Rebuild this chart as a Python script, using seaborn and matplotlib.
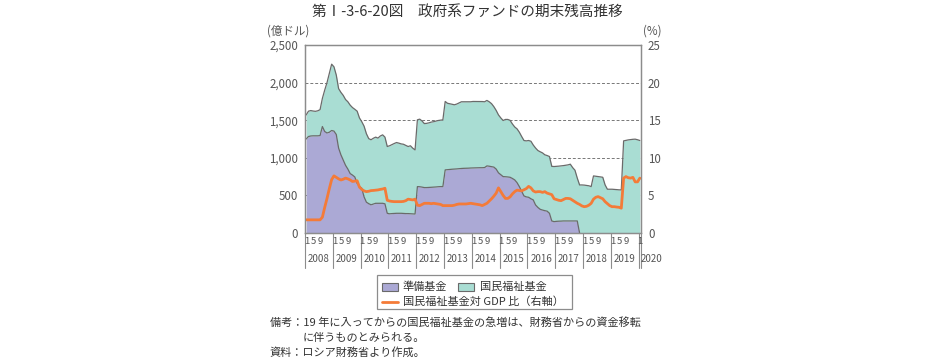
import numpy as np
import pandas as pd
import matplotlib
matplotlib.use("Agg")
import matplotlib.pyplot as plt
from matplotlib.patches import Rectangle
from matplotlib.lines import Line2D
import seaborn as sns

# ---------------- data (monthly, Jan 2008 - Jan 2020) ----------------
years = ["2008", "2009", "2010", "2011", "2012", "2013", "2014",
         "2015", "2016", "2017", "2018", "2019", "2020"]
month_labels = ["1", "5", "9"]

# 準備基金 (億ドル)
reserve_fund = [
    1250, 1283, 1290, 1292, 1292, 1292, 1295, 1416, 1350, 1330, 1340, 1363,   # 2008
    1355, 1310, 1130, 1040, 970, 900, 850, 790, 770, 745, 660, 620,           # 2009
    595, 480, 410, 390, 375, 385, 395, 395, 395, 395, 388, 262,               # 2010
    255, 258, 260, 262, 262, 262, 260, 258, 258, 256, 254, 252,               # 2011
    617, 615, 610, 604, 604, 606, 608, 610, 612, 615, 617, 617,               # 2012
    839, 842, 845, 848, 850, 852, 855, 858, 860, 861, 862, 864,               # 2013
    865, 866, 867, 868, 868, 870, 892, 888, 882, 876, 850, 800,               # 2014
    775, 750, 748, 745, 741, 725, 706, 670, 617, 555, 493, 480,               # 2015
    475, 455, 440, 373, 340, 315, 305, 297, 290, 262, 160, 151,               # 2016
    155, 157, 158, 160, 160, 160, 160, 160, 160, 160, 0, 0,                   # 2017
    0, 0, 0, 0, 0, 0, 0, 0, 0, 0, 0, 0,                                       # 2018
    0, 0, 0, 0, 0, 0, 0, 0, 0, 0, 0, 0,                                       # 2019
    0,                                                                         # 2020
]

# 国民福祉基金 (億ドル)
nwf_fund = [
    320, 337, 338, 330, 326, 333, 345, 374, 550, 670, 780, 882,               # 2008
    855, 790, 790, 830, 860, 875, 895, 910, 898, 900, 960, 910,               # 2009
    885, 940, 910, 865, 865, 875, 880, 867, 895, 910, 887, 888,               # 2010
    905, 917, 930, 941, 933, 923, 920, 907, 892, 904, 874, 853,               # 2011
    888, 899, 880, 851, 854, 859, 867, 870, 876, 881, 883, 888,               # 2012
    910, 883, 873, 864, 855, 863, 875, 887, 885, 884, 883, 881,               # 2013
    884, 883, 882, 881, 880, 875, 871, 857, 838, 804, 780, 770,               # 2014
    755, 746, 762, 765, 757, 725, 704, 715, 723, 728, 737, 745,               # 2015
    755, 765, 730, 757, 757, 765, 760, 743, 740, 755, 726, 733,               # 2016
    731, 732, 734, 736, 741, 746, 755, 710, 675, 570, 639, 639,               # 2017
    637, 633, 628, 617, 759, 755, 750, 746, 741, 640, 582, 582,               # 2018
    582, 580, 577, 574, 573, 1225, 1232, 1238, 1242, 1246, 1248, 1240,        # 2019
    1230,                                                                      # 2020
]

# 国民福祉基金対 GDP 比 (%)
nwf_gdp_ratio = [
    1.75, 1.75, 1.75, 1.75, 1.75, 1.75, 1.75, 2.1, 3.4, 4.6, 5.9, 7.1,        # 2008
    7.6, 7.4, 7.2, 7.05, 7.15, 7.3, 7.2, 7.05, 6.85, 6.9, 6.95, 6.1,          # 2009
    5.8, 5.6, 5.5, 5.55, 5.64, 5.66, 5.7, 5.73, 5.8, 5.85, 5.95, 4.35,        # 2010
    4.25, 4.2, 4.17, 4.17, 4.17, 4.17, 4.2, 4.3, 4.5, 4.45, 4.4, 4.5,         # 2011
    3.7, 3.64, 3.8, 3.95, 3.95, 3.95, 3.9, 3.95, 3.9, 3.86, 3.8, 3.64,        # 2012
    3.64, 3.64, 3.64, 3.64, 3.7, 3.8, 3.86, 3.86, 3.86, 3.86, 3.9, 3.95,      # 2013
    3.9, 3.85, 3.8, 3.75, 3.64, 3.8, 3.95, 4.25, 4.55, 4.9, 5.3, 6.0,         # 2014
    5.5, 5.0, 4.6, 4.6, 4.8, 5.2, 5.5, 5.7, 5.65, 5.6, 5.75, 5.9,             # 2015
    6.2, 6.0, 5.6, 5.45, 5.5, 5.5, 5.4, 5.5, 5.3, 5.2, 5.1, 4.55,             # 2016
    4.45, 4.35, 4.3, 4.45, 4.6, 4.6, 4.55, 4.35, 4.15, 3.95, 3.8, 3.6,        # 2017
    3.5, 3.55, 3.7, 3.95, 4.5, 4.75, 4.84, 4.7, 4.55, 4.17, 3.9, 3.64,        # 2018
    3.5, 3.5, 3.45, 3.42, 3.3, 7.3, 7.5, 7.35, 7.3, 7.4, 6.8, 6.8,            # 2019
    7.3,                                                                       # 2020
]

# ---------------- style ----------------
sns.set_theme(style="white")
plt.rcParams['font.family'] = ['Noto Sans CJK JP', 'DejaVu Sans']

PURPLE = "#ABA9D5"
TEAL = "#A9DDD3"
ORANGE = "#F47B38"
EDGE = "#6A6A6A"
SPINE = "#8C8C8C"
TXT = "#333333"
TICK = "#555555"

W, H = 928, 360
fig = plt.figure(figsize=(W / 100, H / 100), dpi=100)
fig.patch.set_facecolor("white")

def fx(px):
    return px / W

def fy(py):
    return 1 - py / H

L, R, T, B = 305, 641, 45, 233
ax = fig.add_axes([fx(L), fy(B), fx(R - L), (B - T) / H])

df = pd.DataFrame({
    "m": np.arange(len(reserve_fund)),
    "reserve": reserve_fund,
    "nwf": nwf_fund,
    "ratio": nwf_gdp_ratio,
})

# gridlines
for v in [500, 1000, 1500, 2000]:
    ax.axhline(v, color="#777777", lw=0.7, ls=(0, (3, 2)), zorder=0.5)

# stacked areas
ax.stackplot(df["m"], df["reserve"], df["nwf"], colors=[PURPLE, TEAL],
             linewidth=0, zorder=1)
top = df["reserve"] + df["nwf"]
ax.plot(df["m"], top, color=EDGE, lw=0.9, zorder=2)
last_pos = int(np.nonzero(df["reserve"].values)[0].max()) + 1
ax.plot(df["m"][:last_pos + 1], df["reserve"][:last_pos + 1], color=EDGE, lw=0.9, zorder=2)

ax.set_xlim(-0.5, len(reserve_fund) - 0.5)
ax.set_ylim(0, 2500)
ax.set_yticks([0, 500, 1000, 1500, 2000, 2500])
ax.set_yticklabels(["0", "500", "1,000", "1,500", "2,000", "2,500"])
ax.set_xticks([])
ax.tick_params(axis="y", length=0, pad=5, labelsize=8.3, labelcolor=TICK)
for s in ax.spines.values():
    s.set_color(SPINE)
    s.set_linewidth(0.9)

# right axis line
ax2 = ax.twinx()
sns.lineplot(data=df, x="m", y="ratio", ax=ax2, color=ORANGE, linewidth=2.0)
ax2.set_ylim(0, 25)
ax2.set_yticks([0, 5, 10, 15, 20, 25])
ax2.set_yticklabels(["0", "5", "10", "15", "20", "25"])
ax2.tick_params(axis="y", length=0, pad=5, labelsize=8.3, labelcolor=TICK)
ax2.set_ylabel("")
ax2.set_xlabel("")
ax.set_xlabel("")
for s in ax2.spines.values():
    s.set_color(SPINE)
    s.set_linewidth(0.9)

# ---------------- x axis labels ----------------
trans = ax.get_xaxis_transform()
month_y = (B - 241.5) / (B - T)
year_y = (B - 259) / (B - T)
sep_bottom = (B - 268) / (B - T)
n_full = len(years) - 1
for k, yr in enumerate(years):
    start = 12 * k - 0.5
    ax.add_line(Line2D([start, start], [0, sep_bottom], transform=trans,
                       color=SPINE, lw=0.8, clip_on=False))
    if k < n_full:
        for off, lab in zip([0.7, 3.6, 6.5], month_labels):
            ax.text(start + off, month_y, lab, transform=trans, ha="center",
                    va="center", fontsize=6.9, color=TICK)
        ax.text(start + 5.9, year_y, yr, transform=trans, ha="center",
                va="center", fontsize=7, color=TICK)
    else:
        ax.text(start + 0.6, month_y, month_labels[0], transform=trans,
                ha="center", va="center", fontsize=6.9, color=TICK)
        ax.text(start + 1.0, year_y, yr, transform=trans, ha="left",
                va="center", fontsize=7, color=TICK)
right_edge = len(reserve_fund) - 0.5
ax.add_line(Line2D([right_edge, right_edge], [0, sep_bottom], transform=trans,
                   color=SPINE, lw=0.8, clip_on=False))

# ---------------- titles / axis units ----------------
fig.text(fx(467), fy(12), "第Ⅰ-3-6-20図　政府系ファンドの期末残高推移",
         ha="center", va="center", fontsize=10.5, color=TXT)
fig.text(fx(288), fy(31), "(億ドル)", ha="center", va="center",
         fontsize=8.3, color=TICK)
fig.text(fx(652), fy(31), "(%)", ha="center", va="center",
         fontsize=8.3, color=TICK)

# ---------------- legend (manual box) ----------------
fig.patches.append(Rectangle((fx(377), fy(309)), fx(572 - 377), (309 - 275) / H,
                             transform=fig.transFigure, fill=False,
                             edgecolor=SPINE, lw=0.9))
fig.patches.append(Rectangle((fx(382), fy(291)), fx(16), 8 / H,
                             transform=fig.transFigure, facecolor=PURPLE,
                             edgecolor=EDGE, lw=0.8))
fig.text(fx(403), fy(286.5), "準備基金", ha="left", va="center",
         fontsize=8, color=TXT)
fig.patches.append(Rectangle((fx(458), fy(291)), fx(16), 8 / H,
                             transform=fig.transFigure, facecolor=TEAL,
                             edgecolor=EDGE, lw=0.8))
fig.text(fx(480), fy(286.5), "国民福祉基金", ha="left", va="center",
         fontsize=8, color=TXT)
fig.lines.append(Line2D([fx(382), fx(398)], [fy(301.5), fy(301.5)],
                        transform=fig.transFigure, color=ORANGE, lw=2))
fig.text(fx(403), fy(301.5), "国民福祉基金対 GDP 比（右軸）", ha="left",
         va="center", fontsize=8, color=TXT)

# ---------------- notes ----------------
fig.text(fx(270), fy(322.5), "備考：19 年に入ってからの国民福祉基金の急増は、財務省からの資金移転",
         ha="left", va="center", fontsize=8, color=TXT)
fig.text(fx(303), fy(337.5), "に伴うものとみられる。",
         ha="left", va="center", fontsize=8, color=TXT)
fig.text(fx(270), fy(352.5), "資料：ロシア財務省より作成。",
         ha="left", va="center", fontsize=8, color=TXT)

fig.savefig("out.png", dpi=100, facecolor="white")
